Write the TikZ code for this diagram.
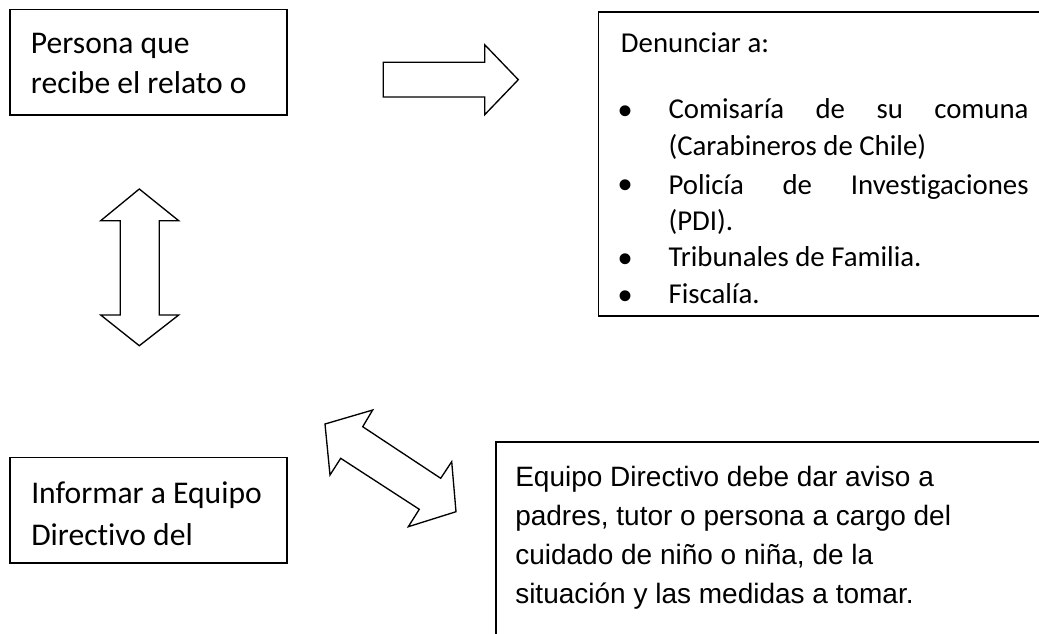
\documentclass[tikz,border=0pt]{standalone}
\usepackage{fontspec}
\setmainfont{Carlito}[Ligatures=CommonOff]
\newfontfamily\arialf{Liberation Sans}
\begin{document}
\begin{tikzpicture}[x=0.75pt,y=-0.75pt,
  box/.style={draw, line width=1.3pt, inner sep=0pt, anchor=north west},
  blockarrow/.style={draw, line width=1pt, line join=miter, fill=white},
  bigtxt/.style={anchor=base west, inner sep=0pt, font=\fontsize{23.7}{28}\selectfont},
  midtxt/.style={anchor=base west, inner sep=0pt, font=\fontsize{21.6}{26}\selectfont},
  ariatxt/.style={anchor=base west, inner sep=0pt, font=\arialf\fontsize{21}{25}\selectfont},
  bul/.style={anchor=base, inner sep=0pt, font=\arialf\fontsize{30}{34}\selectfont}]
\useasboundingbox (0,0) rectangle (1039,633);
% boxes
\node[box, minimum width=207.75pt, minimum height=79.2pt] (persona) at (9,8.7) {};
\node[box, minimum width=335.5pt, minimum height=228pt] (denunciar) at (597.7,11) {};
\node[box, minimum width=207.75pt, minimum height=79pt] (informar) at (9,456.7) {};
\node[box, minimum width=413.25pt, minimum height=149.25pt] (equipo) at (495,441) {};
% box 1 text
\node[bigtxt] (p1) at (30.7,53) {Persona que};
\node[bigtxt] (p2) at (30.7,93) {recibe el relato o};
% box 2 text
\node[midtxt] (d0) at (620.7,52.3) {Denunciar a:};
\node[bul] (b1) at (625,124.3) {•};
\node[bul] (b2) at (625,198.3) {•};
\node[bul] (b3) at (625,272.7) {•};
\node[bul] (b4) at (625,309.3) {•};
\node[midtxt] (d1) at (668.3,118.3) {\makebox[270pt][s]{Comisaría de su comuna}};
\node[midtxt] (d2) at (668.3,155) {(Carabineros de Chile)};
\node[midtxt] (d3) at (668.3,194) {\makebox[270pt][s]{Policía de Investigaciones}};
\node[midtxt] (d4) at (668.3,230) {(PDI).};
\node[midtxt] (d5) at (668.3,266.7) {Tribunales de Familia.};
\node[midtxt] (d6) at (668.3,303.3) {Fiscalía.};
% box 3 text
\node[bigtxt] (i1) at (31,503.3) {Informar a Equipo};
\node[bigtxt] (i2) at (31,545) {Directivo del};
% box 4 text
\node[ariatxt] (e1) at (515,486.7) {Equipo Directivo debe dar aviso a};
\node[ariatxt] (e2) at (515,525.5) {padres, tutor o persona a cargo del};
\node[ariatxt] (e3) at (515,564.3) {cuidado de niño o niña, de la};
\node[ariatxt] (e4) at (515,603) {situación y las medidas a tomar.};
% right block arrow
\draw[blockarrow] (383.3,62.3) -- (484.7,62.3) -- (484.7,44.7) -- (518.3,79.7)
  -- (484.7,114.7) -- (484.7,97) -- (383.3,97) -- cycle;
% vertical double block arrow
\draw[blockarrow] (139.3,189) -- (178.7,220.7) -- (159.3,220.7) -- (159.3,315)
  -- (178.7,315) -- (139.3,345.7) -- (100.7,315) -- (120.3,315) -- (120.3,220.7)
  -- (100.7,220.7) -- cycle;
% diagonal double block arrow
\draw[blockarrow] (325,424) -- (372.7,410) -- (362.7,426.7) -- (440.7,478.3)
  -- (451.7,461.7) -- (456,511.7) -- (408.3,526.7) -- (419.3,509.3)
  -- (340.7,458.3) -- (330,475) -- cycle;
\end{tikzpicture}
\end{document}
